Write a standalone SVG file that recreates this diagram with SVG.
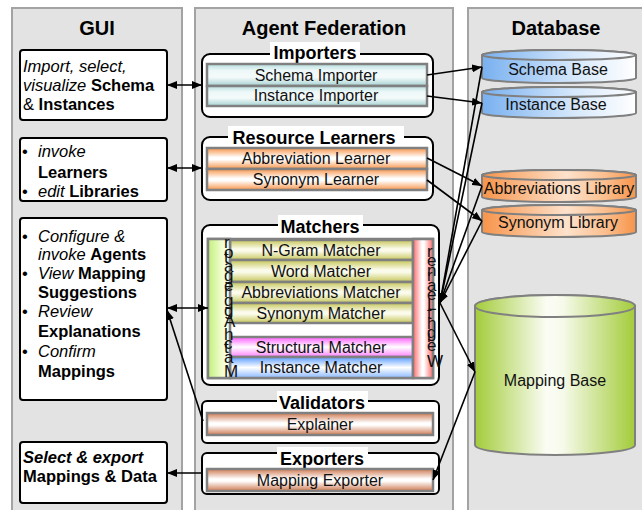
<svg xmlns="http://www.w3.org/2000/svg" width="642" height="510" viewBox="0 0 642 510">
<defs>
<style>
.panel{fill:#e3e3e3;stroke:#a3a3a3;stroke-width:2}
.ptitle{font-family:"Liberation Sans",Arial,sans-serif;font-weight:bold;font-size:20px;text-anchor:middle;fill:#000}
.gbox{fill:#fff;stroke:#000;stroke-width:2}
.grp{fill:#fff;stroke:#000;stroke-width:2}
.gtbg{fill:#fff}
.gtitle{font-family:"Liberation Sans",Arial,sans-serif;font-weight:bold;font-size:18px;text-anchor:middle;fill:#000}
.bar{stroke:#808080;stroke-width:2.5}
.blabel{font-family:"Liberation Sans",Arial,sans-serif;font-size:16px;text-anchor:middle;fill:#111}
.gui{font-family:"Liberation Sans",Arial,sans-serif;font-size:16.5px;fill:#000}
.vt{font-family:"Liberation Sans",Arial,sans-serif;font-size:17px;fill:#111}
.cyl{stroke:#808080;stroke-width:2}
.clabel{font-family:"Liberation Sans",Arial,sans-serif;font-size:16px;text-anchor:middle;fill:#111}
.conn{fill:none;stroke:#000;stroke-width:1.6}
</style>
<marker id="ah" viewBox="0 0 10 8" refX="10" refY="4" markerWidth="10" markerHeight="8" markerUnits="userSpaceOnUse" orient="auto-start-reverse">
<path d="M0,0 L10,4 L0,8 z" fill="#000"/>
</marker>
<linearGradient id="gTeal" x1="0" y1="0" x2="0" y2="1">
<stop offset="0" stop-color="#b6dede"/><stop offset="0.3" stop-color="#eef8f8"/><stop offset="0.6" stop-color="#f4fafa"/><stop offset="1" stop-color="#a6d2d2"/>
</linearGradient>
<linearGradient id="gOrange" x1="0" y1="0" x2="0" y2="1">
<stop offset="0" stop-color="#f7944a"/><stop offset="0.45" stop-color="#fff"/><stop offset="0.55" stop-color="#fff"/><stop offset="1" stop-color="#f7944a"/>
</linearGradient>
<linearGradient id="gOlive" x1="0" y1="0" x2="0" y2="1">
<stop offset="0" stop-color="#c6c65a"/><stop offset="0.45" stop-color="#fbfbec"/><stop offset="0.55" stop-color="#fbfbec"/><stop offset="1" stop-color="#c6c65a"/>
</linearGradient>
<linearGradient id="gMag" x1="0" y1="0" x2="0" y2="1">
<stop offset="0" stop-color="#ff5cff"/><stop offset="0.5" stop-color="#fff"/><stop offset="1" stop-color="#ff80ff"/>
</linearGradient>
<linearGradient id="gBlue" x1="0" y1="0" x2="0" y2="1">
<stop offset="0" stop-color="#5a9cff"/><stop offset="0.5" stop-color="#fff"/><stop offset="1" stop-color="#8ab8ff"/>
</linearGradient>
<linearGradient id="gBrown" x1="0" y1="0" x2="0" y2="1">
<stop offset="0" stop-color="#cf7a52"/><stop offset="0.45" stop-color="#fff"/><stop offset="0.55" stop-color="#fff"/><stop offset="1" stop-color="#cf7a52"/>
</linearGradient>
<linearGradient id="gGreen" x1="0" y1="0" x2="1" y2="0">
<stop offset="0" stop-color="#c2f07c"/><stop offset="0.6" stop-color="#effccc"/><stop offset="1" stop-color="#fbfff2"/>
</linearGradient>
<linearGradient id="gRed" x1="0" y1="0" x2="1" y2="0">
<stop offset="0" stop-color="#ff6a6a"/><stop offset="0.45" stop-color="#fff"/><stop offset="0.55" stop-color="#fff"/><stop offset="1" stop-color="#ff6a6a"/>
</linearGradient>
<linearGradient id="dBlue" x1="0" y1="0" x2="1" y2="0">
<stop offset="0" stop-color="#78b0f0"/><stop offset="0.6" stop-color="#d6e8fb"/><stop offset="1" stop-color="#fff"/>
</linearGradient>
<linearGradient id="dOrange" x1="0" y1="0" x2="1" y2="0">
<stop offset="0" stop-color="#f7944a"/><stop offset="0.55" stop-color="#fde2cc"/><stop offset="0.8" stop-color="#fbbf8e"/><stop offset="1" stop-color="#f7944a"/>
</linearGradient>
<linearGradient id="dGreen" x1="0" y1="0" x2="1" y2="0">
<stop offset="0" stop-color="#a3cc3a"/><stop offset="0.45" stop-color="#fbfdf5"/><stop offset="0.55" stop-color="#f6faea"/><stop offset="1" stop-color="#a3cc3a"/>
</linearGradient>
</defs>

<rect width="642" height="510" fill="#fff"/>

<g id="panel-gui">
<rect class="panel" x="12" y="8" width="170" height="510"/>
<text class="ptitle" x="97" y="35">GUI</text>
</g>
<g id="panel-agent">
<rect class="panel" x="195" y="8" width="258" height="510"/>
<text class="ptitle" x="324" y="35">Agent Federation</text>
</g>
<g id="panel-db">
<rect class="panel" x="468" y="8" width="182" height="510"/>
<text class="ptitle" x="556" y="35">Database</text>
</g>

<g id="gui-import">
<rect class="gbox" x="20" y="50" width="147" height="70" rx="3"/>
<text class="gui" x="23" y="72"><tspan font-style="italic">Import, select,</tspan></text>
<text class="gui" x="23" y="91"><tspan font-style="italic">visualize</tspan> <tspan font-weight="bold">Schema</tspan></text>
<text class="gui" x="23" y="110">&amp; <tspan font-weight="bold">Instances</tspan></text>
</g>
<g id="gui-learners">
<rect class="gbox" x="20" y="138" width="147" height="63" rx="3"/>
<text class="gui" x="22" y="157">•</text>
<text class="gui" x="38" y="157" font-style="italic">invoke</text>
<text class="gui" x="38" y="178" font-weight="bold">Learners</text>
<text class="gui" x="22" y="197">•</text>
<text class="gui" x="38" y="197"><tspan font-style="italic">edit</tspan> <tspan font-weight="bold">Libraries</tspan></text>
</g>
<g id="gui-agents">
<rect class="gbox" x="20" y="218" width="147" height="182" rx="3"/>
<text class="gui" x="22" y="242">•</text>
<text class="gui" x="38" y="242" font-style="italic">Configure &amp;</text>
<text class="gui" x="38" y="260"><tspan font-style="italic">invoke</tspan> <tspan font-weight="bold">Agents</tspan></text>
<text class="gui" x="22" y="279">•</text>
<text class="gui" x="38" y="279"><tspan font-style="italic">View</tspan> <tspan font-weight="bold">Mapping</tspan></text>
<text class="gui" x="38" y="298" font-weight="bold">Suggestions</text>
<text class="gui" x="22" y="317">•</text>
<text class="gui" x="38" y="317" font-style="italic">Review</text>
<text class="gui" x="38" y="337" font-weight="bold">Explanations</text>
<text class="gui" x="22" y="357">•</text>
<text class="gui" x="38" y="357" font-style="italic">Confirm</text>
<text class="gui" x="38" y="377" font-weight="bold">Mappings</text>
</g>
<g id="gui-export">
<rect class="gbox" x="20" y="442" width="147" height="61" rx="3"/>
<text class="gui" x="23" y="463" font-weight="bold" font-style="italic">Select &amp; export</text>
<text class="gui" x="23" y="482" font-weight="bold">Mappings &amp; Data</text>
</g>

<g id="importers">
<rect class="grp" x="202" y="54" width="231" height="63" rx="8"/>
<rect class="gtbg" x="270" y="42" width="90" height="21"/>
<text class="gtitle" x="315" y="59">Importers</text>
<rect class="bar" fill="url(#gTeal)" x="207" y="64" width="220" height="22"/>
<text class="blabel" x="316" y="81">Schema Importer</text>
<rect class="bar" fill="url(#gTeal)" x="207" y="86" width="220" height="20"/>
<text class="blabel" x="316" y="101">Instance Importer</text>
</g>

<g id="learners">
<rect class="grp" x="202" y="137" width="231" height="63" rx="8"/>
<rect class="gtbg" x="228" y="126" width="176" height="21"/>
<text class="gtitle" x="314" y="144">Resource Learners</text>
<rect class="bar" fill="url(#gOrange)" x="207" y="148" width="220" height="21"/>
<text class="blabel" x="316" y="164">Abbreviation Learner</text>
<rect class="bar" fill="url(#gOrange)" x="207" y="169" width="220" height="21"/>
<text class="blabel" x="316" y="185">Synonym Learner</text>
</g>

<g id="matchers">
<rect class="grp" x="202" y="225" width="237" height="160" rx="8"/>
<rect class="gtbg" x="278" y="215" width="85" height="21"/>
<text class="gtitle" x="320" y="233">Matchers</text>
<rect x="208" y="239" width="225" height="139" fill="#fff" stroke="#808080" stroke-width="2.5"/>
<rect class="bar" fill="url(#gOlive)" x="230" y="240" width="183" height="20"/>
<text class="blabel" x="321" y="256">N-Gram Matcher</text>
<rect class="bar" fill="url(#gOlive)" x="230" y="260" width="183" height="22"/>
<text class="blabel" x="321" y="277">Word Matcher</text>
<rect class="bar" fill="url(#gOlive)" x="230" y="282" width="183" height="21"/>
<text class="blabel" x="321" y="298">Abbreviations Matcher</text>
<rect class="bar" fill="url(#gOlive)" x="230" y="303" width="183" height="20"/>
<text class="blabel" x="321" y="319">Synonym Matcher</text>
<rect class="bar" fill="url(#gMag)" x="230" y="337" width="183" height="20"/>
<text class="blabel" x="321" y="353">Structural Matcher</text>
<rect class="bar" fill="url(#gBlue)" x="230" y="357" width="183" height="21"/>
<text class="blabel" x="321" y="373">Instance Matcher</text>
</g>
<g id="aggregator">
<rect class="bar" fill="url(#gGreen)" x="208" y="239" width="22" height="139"/>
<text class="vt" transform="translate(224,377) rotate(-90)" x="0" y="0" rotate="90">Match Aggregator</text>
</g>
<g id="weight-learner">
<rect class="bar" fill="url(#gRed)" x="413" y="239" width="20" height="139"/>
<text class="vt" transform="translate(427,367) rotate(-90)" x="0" y="0" rotate="90">Weight Learner</text>
</g>

<g id="validators">
<rect class="grp" x="202" y="401" width="237" height="42" rx="5"/>
<rect class="gtbg" x="277" y="391" width="91" height="21"/>
<text class="gtitle" x="322" y="409">Validators</text>
<rect class="bar" fill="url(#gBrown)" x="207" y="413" width="226" height="22"/>
<text class="blabel" x="320" y="430">Explainer</text>
</g>

<g id="exporters">
<rect class="grp" x="202" y="453" width="237" height="41" rx="5"/>
<rect class="gtbg" x="277" y="447" width="91" height="21"/>
<text class="gtitle" x="322" y="465">Exporters</text>
<rect class="bar" fill="url(#gBrown)" x="207" y="469" width="226" height="22"/>
<text class="blabel" x="320" y="486">Mapping Exporter</text>
</g>

<g id="schema-base">
<path class="cyl" fill="url(#dBlue)" d="M482,55 A77,5 0 0,1 636,55 V78 A77,5 0 0,1 482,78 Z"/>
<ellipse class="cyl" fill="url(#dBlue)" cx="559" cy="55" rx="77" ry="5"/>
<text class="clabel" x="558" y="75">Schema Base</text>
</g>
<g id="instance-base">
<path class="cyl" fill="url(#dBlue)" d="M482,92 A77,5 0 0,1 636,92 V113 A77,5 0 0,1 482,113 Z"/>
<ellipse class="cyl" fill="url(#dBlue)" cx="559" cy="92" rx="77" ry="5"/>
<text class="clabel" x="556" y="110">Instance Base</text>
</g>
<g id="abbrev-library">
<path class="cyl" fill="url(#dOrange)" d="M482,175 A77,5 0 0,1 636,175 V197 A77,5 0 0,1 482,197 Z"/>
<ellipse class="cyl" fill="url(#dOrange)" cx="559" cy="175" rx="77" ry="5"/>
<text class="clabel" x="559" y="194">Abbreviations Library</text>
</g>
<g id="synonym-library">
<path class="cyl" fill="url(#dOrange)" d="M482,210 A77,5 0 0,1 636,210 V232 A77,5 0 0,1 482,232 Z"/>
<ellipse class="cyl" fill="url(#dOrange)" cx="559" cy="210" rx="77" ry="5"/>
<text class="clabel" x="558" y="228">Synonym Library</text>
</g>
<g id="mapping-base">
<path class="cyl" fill="url(#dGreen)" d="M475,306 A80,11 0 0,1 635,306 V445 A80,10 0 0,1 475,445 Z"/>
<ellipse class="cyl" fill="url(#dGreen)" cx="555" cy="306" rx="80" ry="11"/>
<text class="clabel" x="555" y="386">Mapping Base</text>
</g>

<g id="connectors">
<path class="conn" d="M167,85 H202" marker-start="url(#ah)" marker-end="url(#ah)"/>
<path class="conn" d="M167,168 H202" marker-start="url(#ah)" marker-end="url(#ah)"/>
<path class="conn" d="M167,308 H208" marker-start="url(#ah)" marker-end="url(#ah)"/>
<path class="conn" d="M203,421 L167,310" marker-end="url(#ah)"/>
<path class="conn" d="M202,473 H167" marker-end="url(#ah)"/>
<path class="conn" d="M427,75 L482,67" marker-end="url(#ah)"/>
<path class="conn" d="M427,96 L482,103" marker-end="url(#ah)"/>
<path class="conn" d="M427,158 L482,186" marker-end="url(#ah)"/>
<path class="conn" d="M427,180 L482,221" marker-end="url(#ah)"/>
<path class="conn" d="M482,67 L440,303" marker-end="url(#ah)"/>
<path class="conn" d="M482,103 L440,303" marker-end="url(#ah)"/>
<path class="conn" d="M482,186 L440,303" marker-end="url(#ah)"/>
<path class="conn" d="M482,221 L440,303" marker-end="url(#ah)"/>
<path class="conn" d="M440,303 L475,372" marker-end="url(#ah)"/>
<path class="conn" d="M475,372 L433,480" marker-end="url(#ah)"/>
</g>
</svg>
